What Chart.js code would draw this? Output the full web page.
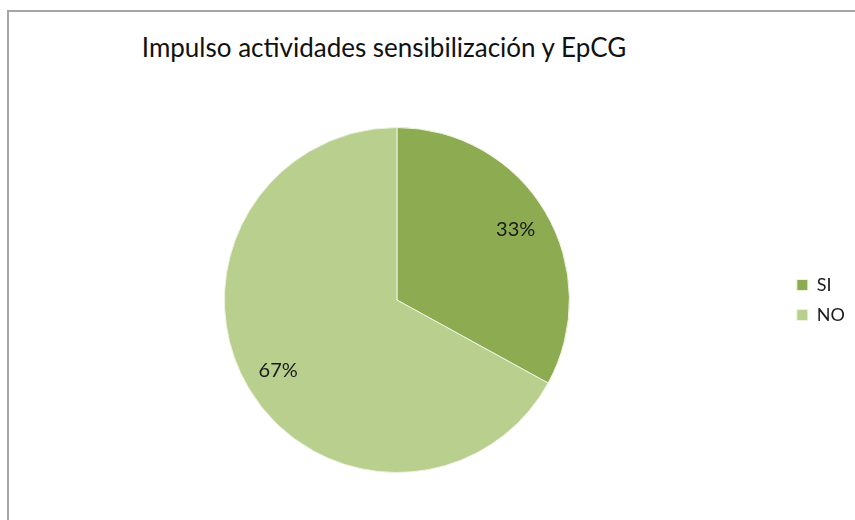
<!DOCTYPE html>
<html>
<head>
<meta charset="utf-8">
<script src="https://cdn.jsdelivr.net/npm/chart.js@4.4.0/dist/chart.umd.min.js"></script>
<style>
  body { margin: 0; background: #fff; }
  #wrap {
    position: absolute; left: 7px; top: 10px;
    width: 848px; height: 510px;
    border-top: 2px solid #a6a6a6; border-left: 2px solid #a6a6a6;
    box-sizing: border-box;
  }
  #title {
    position: absolute; left: 0; top: 20px; width: 750px; line-height: 30px;
    text-align: center; font-family: Lato, sans-serif; font-size: 26px; color: #111;
  }
  #chartBox { position: absolute; left: 0; top: 0; width: 846px; height: 508px; }
</style>
</head>
<body>
<div id="wrap">
  <div id="title">Impulso actividades sensibilización y EpCG</div>
  <div id="chartBox"><canvas id="pie"></canvas></div>
</div>
<script>
const labels = ['SI', 'NO'];
const values = [33, 67];
const colors = ['#8dab50', '#b9cf8e'];

// percentage labels inside the slices
const sliceLabels = {
    id: 'sliceLabels',
    afterDatasetsDraw(chart) {
        const ctx = chart.ctx;
        const total = values.reduce((a, b) => a + b, 0);
        chart.getDatasetMeta(0).data.forEach((arc, i) => {
            const mid = (arc.startAngle + arc.endAngle) / 2;
            const r = arc.outerRadius * 0.8;
            const x = arc.x + Math.cos(mid) * r;
            const y = arc.y + Math.sin(mid) * r;
            ctx.save();
            ctx.font = '20px Lato, sans-serif';
            ctx.fillStyle = '#1a1a1a';
            ctx.textAlign = 'center';
            ctx.textBaseline = 'middle';
            ctx.fillText(Math.round(values[i] / total * 100) + '%', x, y);
            ctx.restore();
        });
    }
};

new Chart(document.getElementById('pie'), {
    type: 'pie',
    data: {
        labels: labels,
        datasets: [{
            data: values,
            backgroundColor: colors,
            borderColor: '#eef3e2',
            borderWidth: 1
        }]
    },
    options: {
        responsive: true,
        maintainAspectRatio: false,
        animation: false,
        layout: { padding: { top: 115, bottom: 47, left: 0, right: 0 } },
        plugins: {
            title: { display: false },
            tooltip: { enabled: false },
            legend: {
                position: 'right',
                labels: {
                    boxWidth: 11,
                    boxHeight: 11,
                    padding: 12,
                    color: '#1a1a1a',
                    font: { family: 'Lato, sans-serif', size: 18 }
                }
            }
        }
    },
    plugins: [sliceLabels]
});
</script>
</body>
</html>
